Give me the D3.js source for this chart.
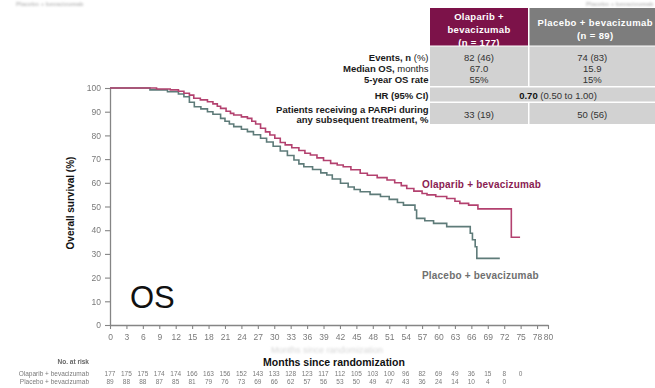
<!DOCTYPE html>
<html>
<head>
<meta charset="utf-8">
<script src="https://cdn.jsdelivr.net/npm/d3@7"></script>
<style>
  html, body { margin: 0; padding: 0; background: #fff; }
  svg { display: block; font-family: "Liberation Sans", Arial, Helvetica, sans-serif; }
</style>
</head>
<body>
<svg id="chart" width="655" height="388"></svg>
<script>
// Kaplan–Meier step points: [month, overall survival %]
const olaparibCurve = [
  [0, 100], [8.5, 99.6], [11, 99.2], [12.5, 98.6], [13.5, 97.8], [14.5, 97.0],
  [15.3, 95.7], [16.5, 95.0], [17.8, 94.2], [18.8, 93.3], [19.6, 92.3], [20.2, 91.4],
  [21.2, 90.2], [22.0, 89.3], [22.6, 88.6], [24.0, 87.8], [25.1, 87.2], [25.9, 86.0],
  [26.6, 84.8], [27.5, 83.0], [28.4, 81.5], [29.2, 80.2], [30.1, 78.8], [31.1, 77.0],
  [32.0, 76.0], [33.2, 74.8], [34.5, 73.6], [35.6, 72.5], [36.6, 71.7], [37.8, 70.5],
  [39.0, 69.4], [40.3, 68.2], [41.5, 67.5], [42.6, 66.8], [44.0, 65.5], [45.7, 64.0],
  [47.0, 63.2], [48.8, 62.2], [50.6, 61.2], [52.0, 60.0], [53.2, 58.8], [54.2, 57.6],
  [55.5, 56.5], [57.0, 55.5], [57.9, 54.9], [59.5, 54.2], [61.5, 53.4], [63.0, 52.2],
  [63.9, 51.3], [65.5, 50.6], [67.2, 49.0], [73.3, 37.0], [74.9, 37.0]
];
const placeboCurve = [
  [0, 100], [7.3, 99.2], [10.5, 98.4], [12.5, 97.5], [13.5, 96.3], [14.5, 94.0],
  [15.4, 92.1], [16.6, 91.2], [17.8, 90.0], [18.8, 88.9], [20.2, 87.2], [21.0, 86.0],
  [21.8, 84.8], [22.6, 83.7], [24.0, 82.6], [25.1, 81.6], [26.2, 80.3], [27.5, 78.8],
  [28.6, 77.2], [29.8, 75.4], [31.1, 73.4], [32.4, 71.5], [33.6, 69.6], [34.5, 68.0],
  [35.4, 66.8], [37.0, 65.6], [38.5, 64.2], [39.6, 63.3], [40.6, 61.6], [42.1, 59.8],
  [43.5, 58.2], [44.6, 57.2], [45.7, 56.2], [47.5, 55.1], [49.4, 54.2], [51.0, 53.0],
  [52.5, 51.7], [53.6, 50.6], [55.7, 48.5], [56.0, 45.0], [57.5, 44.0], [59.1, 42.9],
  [61.5, 41.5], [65.8, 38.7], [66.2, 36.0], [66.7, 33.0], [67.0, 28.1], [71.2, 28.1]
];

// Axis ticks
const xTickValues = [0, 3, 6, 9, 12, 15, 18, 21, 24, 27, 30, 33, 36, 39, 42, 45, 48, 51, 54, 57, 60, 63, 66, 69, 72, 75, 78, 80];
const yTickValues = [0, 10, 20, 30, 40, 50, 60, 70, 80, 90, 100];

// Number at risk
const atRiskMonths = [0, 3, 6, 9, 12, 15, 18, 21, 24, 27, 30, 33, 36, 39, 42, 45, 48, 51, 54, 57, 60, 63, 66, 69, 72, 75];
const olaparibAtRisk = [177, 175, 175, 174, 174, 166, 163, 156, 152, 143, 133, 128, 123, 117, 112, 105, 103, 100, 96, 82, 69, 49, 36, 15, 8, 0];
const placeboAtRisk = [89, 88, 88, 87, 85, 81, 79, 76, 73, 69, 66, 62, 57, 56, 53, 50, 49, 47, 43, 36, 24, 14, 10, 4, 0];

// Arm names
const armOlaparib = "Olaparib + bevacizumab";
const armPlacebo = "Placebo + bevacizumab";

// Summary table
const headerOlaparib = ["Olaparib +", "bevacizumab", "(n = 177)"];
const headerPlacebo = ["Placebo + bevacizumab", "(n = 89)"];
const summaryLabels = [
  [["Events, n", true], [" (%)", false]],
  [["Median OS,", true], [" months", false]],
  [["5-year OS rate", true]]
];
const summaryOlaparib = ["82 (46)", "67.0", "55%"];
const summaryPlacebo = ["74 (83)", "15.9", "15%"];
const hrLabel = "HR (95% CI)";
const hrValue = ["0.70", " (0.50 to 1.00)"];
const parpiLabel = ["Patients receiving a PARPi during", "any subsequent treatment, %"];
const parpiValues = ["33 (19)", "50 (56)"];

const colOlaparib = "#7c1249";
const colPlacebo = "#7d7d7d";
const lineOlaparib = "#b3416f";
const linePlacebo = "#5e7b79";
const cellFill = "#d2d2d2";

const svg = d3.select("#chart");

const defs = svg.append("defs");
defs.append("filter").attr("id", "soft").append("feGaussianBlur").attr("stdDeviation", 0.55);
defs.append("filter").attr("id", "haze").append("feGaussianBlur").attr("stdDeviation", 0.9);

const x = d3.scaleLinear().domain([0, 80]).range([110, 548]);
const y = d3.scaleLinear().domain([0, 100]).range([325, 88]);

// Faint strip of text along the top edge
const topStrip = svg.append("g").attr("filter", "url(#haze)").attr("fill", "#bdbdbd")
  .attr("font-size", 6).attr("font-weight", "bold");
topStrip.append("text").attr("x", 16).attr("y", 6).text(armPlacebo);
topStrip.append("text").attr("x", 586).attr("y", 6).text(armPlacebo);

// Axes
const yAxis = svg.append("g")
  .attr("transform", `translate(${x(0)},0)`)
  .call(d3.axisLeft(y).tickValues(yTickValues).tickSize(5).tickSizeOuter(0).tickPadding(4));
const xAxis = svg.append("g")
  .attr("transform", `translate(0,${y(0)})`)
  .call(d3.axisBottom(x).tickValues(xTickValues).tickSize(4).tickSizeOuter(0).tickPadding(5));

[yAxis, xAxis].forEach(g => {
  g.select(".domain").attr("stroke", "#858585").attr("stroke-width", 1.3);
  g.selectAll(".tick line").attr("stroke", "#858585").attr("stroke-width", 1.1);
  g.selectAll(".tick text").attr("fill", "#7a7a7a").attr("font-size", 8.5)
    .attr("font-family", "\"Liberation Sans\", Arial, sans-serif").attr("filter", "url(#soft)");
});

// Survival curves
const step = d3.line().x(d => x(d[0])).y(d => y(d[1])).curve(d3.curveStepAfter);
svg.append("path").datum(placeboCurve).attr("d", step)
  .attr("fill", "none").attr("stroke", linePlacebo).attr("stroke-width", 1.6);
svg.append("path").datum(olaparibCurve).attr("d", step)
  .attr("fill", "none").attr("stroke", lineOlaparib).attr("stroke-width", 1.6);

// Curve labels
svg.append("text").attr("x", 422).attr("y", 187.5).attr("font-size", 10).attr("font-weight", "bold")
  .attr("fill", "#8a1c52").attr("letter-spacing", 0.2).text(armOlaparib);
svg.append("text").attr("x", 422).attr("y", 279).attr("font-size", 10).attr("font-weight", "bold")
  .attr("fill", "#6f6f6f").attr("letter-spacing", 0.2).text(armPlacebo);

// Panel tag
svg.append("text").attr("x", 130).attr("y", 307.5).attr("font-size", 31).attr("fill", "#111").text("OS");

// Axis titles
svg.append("text").attr("transform", "translate(73.5,203) rotate(-90)").attr("text-anchor", "middle")
  .attr("font-size", 10).attr("font-weight", "bold").attr("fill", "#111").text("Overall survival (%)");
svg.append("text").attr("x", 327).attr("y", 353).attr("text-anchor", "middle").attr("font-size", 9)
  .attr("fill", "#d6d6d6").attr("filter", "url(#haze)").text("Months since randomization");
svg.append("text").attr("x", 334).attr("y", 366).attr("text-anchor", "middle").attr("font-size", 10.5)
  .attr("font-weight", "bold").attr("fill", "#111").text("Months since randomization");

// Number at risk table
const risk = svg.append("g").attr("filter", "url(#soft)").attr("fill", "#7a7a7a").attr("font-size", 6.5);
risk.append("text").attr("x", 89).attr("y", 364).attr("text-anchor", "end").attr("font-weight", "bold")
  .attr("fill", "#666").text("No. at risk");
risk.append("text").attr("x", 89).attr("y", 375.5).attr("text-anchor", "end").text(armOlaparib);
risk.append("text").attr("x", 89).attr("y", 384).attr("text-anchor", "end").text(armPlacebo);
risk.selectAll("text.ola").data(olaparibAtRisk).join("text").attr("class", "ola")
  .attr("x", (d, i) => x(atRiskMonths[i])).attr("y", 375.5).attr("text-anchor", "middle").text(d => d);
risk.selectAll("text.pla").data(placeboAtRisk).join("text").attr("class", "pla")
  .attr("x", (d, i) => x(atRiskMonths[i])).attr("y", 384).attr("text-anchor", "middle").text(d => d);

// Summary table
const tb = svg.append("g").attr("font-size", 9.5);
const c1 = [430, 528], c2 = [529.5, 660];
const mid1 = (c1[0] + c1[1]) / 2, mid2 = (c2[0] + 655) / 2 + 3;

tb.append("rect").attr("x", c1[0]).attr("y", 8).attr("width", c1[1] - c1[0]).attr("height", 37.5).attr("fill", colOlaparib);
tb.append("rect").attr("x", c2[0]).attr("y", 8).attr("width", c2[1] - c2[0]).attr("height", 37.5).attr("fill", colPlacebo);
tb.selectAll("text.h1").data(headerOlaparib).join("text").attr("class", "h1")
  .attr("x", mid1).attr("y", (d, i) => 20 + i * 13).attr("text-anchor", "middle")
  .attr("fill", "#fff").attr("font-weight", "bold").attr("letter-spacing", 0.3).text(d => d);
tb.selectAll("text.h2").data(headerPlacebo).join("text").attr("class", "h2")
  .attr("x", mid2).attr("y", (d, i) => 25.5 + i * 13).attr("text-anchor", "middle")
  .attr("fill", "#fff").attr("font-weight", "bold").attr("letter-spacing", 0.4).text(d => d);

// body cells
const bodyRows = [[46.5, 86], [87.5, 101.5], [103, 124]];
bodyRows.forEach(([a, b], r) => {
  if (r === 1) {
    tb.append("rect").attr("x", c1[0]).attr("y", a).attr("width", c2[1] - c1[0]).attr("height", b - a).attr("fill", cellFill);
  } else {
    tb.append("rect").attr("x", c1[0]).attr("y", a).attr("width", c1[1] - c1[0]).attr("height", b - a).attr("fill", cellFill);
    tb.append("rect").attr("x", c2[0]).attr("y", a).attr("width", c2[1] - c2[0]).attr("height", b - a).attr("fill", cellFill);
  }
});

const labelRight = 428.5;
const rowBase = [60.5, 71.5, 83];
summaryLabels.forEach((parts, i) => {
  const t = tb.append("text").attr("x", labelRight).attr("y", rowBase[i]).attr("text-anchor", "end").attr("fill", "#1a1a1a");
  parts.forEach(([s, bold]) => t.append("tspan").attr("font-weight", bold ? "bold" : "normal").text(s));
});
tb.selectAll("text.v1").data(summaryOlaparib).join("text").attr("class", "v1")
  .attr("x", mid1).attr("y", (d, i) => rowBase[i]).attr("text-anchor", "middle").attr("fill", "#333").text(d => d);
tb.selectAll("text.v2").data(summaryPlacebo).join("text").attr("class", "v2")
  .attr("x", mid2 - 3).attr("y", (d, i) => rowBase[i]).attr("text-anchor", "middle").attr("fill", "#333").text(d => d);

tb.append("text").attr("x", labelRight).attr("y", 98.5).attr("text-anchor", "end")
  .attr("font-weight", "bold").attr("fill", "#1a1a1a").text(hrLabel);
const hrText = tb.append("text").attr("x", 558).attr("y", 98.5).attr("text-anchor", "middle").attr("fill", "#333");
hrText.append("tspan").attr("font-weight", "bold").attr("fill", "#111").text(hrValue[0]);
hrText.append("tspan").text(hrValue[1]);

tb.selectAll("text.pl").data(parpiLabel).join("text").attr("class", "pl")
  .attr("x", labelRight).attr("y", (d, i) => 113 + i * 10).attr("text-anchor", "end")
  .attr("font-weight", "bold").attr("fill", "#1a1a1a").text(d => d);
tb.append("text").attr("x", mid1).attr("y", 118).attr("text-anchor", "middle").attr("fill", "#333").text(parpiValues[0]);
tb.append("text").attr("x", mid2 - 3).attr("y", 118).attr("text-anchor", "middle").attr("fill", "#333").text(parpiValues[1]);
</script>
</body>
</html>
